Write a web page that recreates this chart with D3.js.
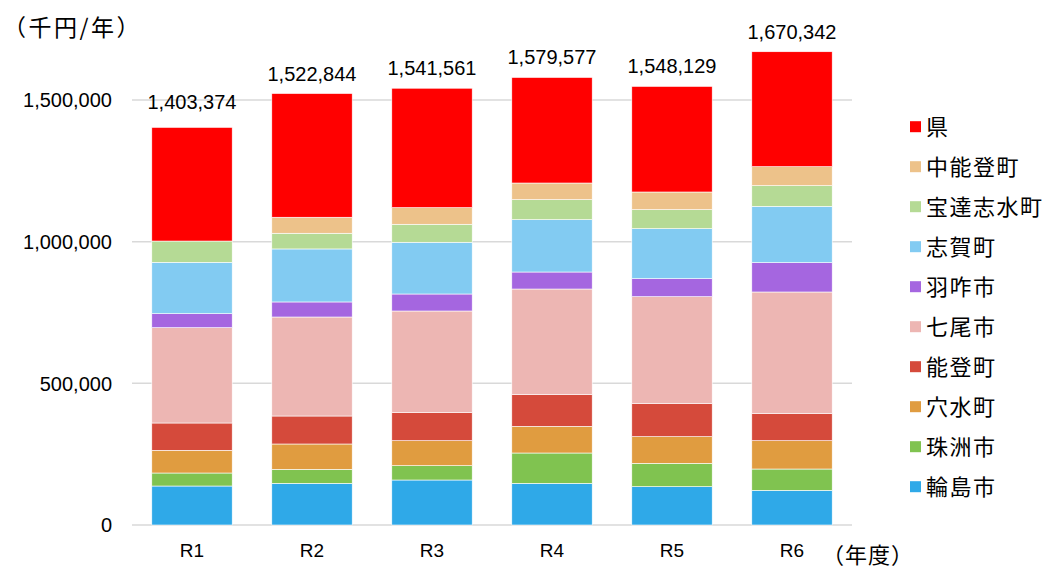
<!DOCTYPE html>
<html>
<head>
<meta charset="utf-8">
<script src="https://cdn.jsdelivr.net/npm/d3@7"></script>
<style>
  body { margin: 0; background: #fff; }
  text { font-family: "Noto Sans CJK JP", "Noto Sans", sans-serif; fill: #000; }
  .num { font-family: "Liberation Sans", Arial, sans-serif; }
</style>
</head>
<body>
<script>
const width = 1048, height = 569;

// fiscal years
const years = ["R1", "R2", "R3", "R4", "R5", "R6"];
// series, bottom to top (千円/年)
const wajima   = [137600, 147100, 158800, 147100, 135300, 122400];
const suzu     = [45900, 49400, 50500, 107000, 82400, 75200];
const anamizu  = [80100, 89400, 88200, 94100, 94100, 99900];
const noto     = [96400, 98800, 98900, 113000, 117600, 95400];
const nanao    = [336400, 349400, 358900, 371700, 376400, 429500];
const hakui    = [49400, 53100, 60000, 60000, 63500, 103500];
const shika    = [181400, 187100, 182600, 184700, 176500, 198800];
const hodatsu  = [75000, 55400, 63500, 70600, 67100, 72900];
const nakanoto = [0, 56500, 58700, 58800, 62400, 67100];
const ken      = [401174, 436644, 421461, 372577, 372729, 405642];
const totals   = [1403374, 1522844, 1541561, 1579577, 1548129, 1670342];

const names  = ["輪島市", "珠洲市", "穴水町", "能登町", "七尾市", "羽咋市", "志賀町", "宝達志水町", "中能登町", "県"];
const colors = ["#2fa9e8", "#80c350", "#e09c40", "#d54a3b", "#edb6b3", "#a566e0", "#82cbf2", "#b5da95", "#edc28a", "#ff0000"];
const seriesVals = [wajima, suzu, anamizu, noto, nanao, hakui, shika, hodatsu, nakanoto, ken];
const yTicks = [0, 500000, 1000000, 1500000];

const rows = years.map((y, i) => {
  const r = { year: y };
  names.forEach((n, k) => r[n] = seriesVals[k][i]);
  return r;
});
const stacked = d3.stack().keys(names)(rows);

const svg = d3.select("body").append("svg")
  .attr("width", width).attr("height", height);

const x = d3.scaleBand().domain(years).range([132, 852]).paddingInner(0.33).paddingOuter(0.165);
const y = d3.scaleLinear().domain([0, 1500000]).range([525, 100]);
const fmt = d3.format(",");

// gridlines
svg.append("g").selectAll("line").data(yTicks).join("line")
  .attr("x1", 132).attr("x2", 852)
  .attr("y1", d => y(d)).attr("y2", d => y(d))
  .attr("stroke", "#d9d9d9").attr("stroke-width", 1.5);

// y labels
svg.append("g").selectAll("text").data(yTicks).join("text")
  .attr("class", "num")
  .attr("x", 112).attr("y", d => y(d)).attr("dy", "0.36em")
  .attr("text-anchor", "end").attr("font-size", 20)
  .text(d => fmt(d));

// bars
svg.append("g").selectAll("g").data(stacked).join("g")
  .attr("fill", (d, i) => colors[i])
  .selectAll("rect").data(d => d).join("rect")
    .attr("x", d => x(d.data.year))
    .attr("width", x.bandwidth())
    .attr("y", d => y(d[1]))
    .attr("height", d => y(d[0]) - y(d[1]))
    .attr("stroke", "#fff").attr("stroke-width", 0.6);

// totals (R1 label sits a little higher, clear of the gridline)
svg.append("g").selectAll("text").data(years).join("text")
  .attr("class", "num")
  .attr("x", d => x(d) + x.bandwidth() / 2)
  .attr("y", (d, i) => y(totals[i]) - (i === 0 ? 18 : 13))
  .attr("text-anchor", "middle").attr("font-size", 20)
  .text((d, i) => fmt(totals[i]));

// x labels
svg.append("g").selectAll("text").data(years).join("text")
  .attr("class", "num")
  .attr("x", d => x(d) + x.bandwidth() / 2)
  .attr("y", 557)
  .attr("text-anchor", "middle").attr("font-size", 19)
  .text(d => d);

svg.append("text").attr("x", 3).attr("y", 36).attr("font-size", 23)
  .attr("letter-spacing", 2.5).text("（千円/年）");
svg.append("text").attr("x", 822).attr("y", 563).attr("font-size", 22)
  .attr("letter-spacing", 1).text("（年度）");

// legend, top entry is 県
const legend = svg.append("g").selectAll("g").data(names.slice().reverse()).join("g")
  .attr("transform", (d, i) => `translate(910, ${126.7 + i * 40})`);
legend.append("rect").attr("x", 0).attr("y", -5.5).attr("width", 11).attr("height", 11)
  .attr("fill", d => colors[names.indexOf(d)]);
legend.append("text").attr("x", 16).attr("dy", "0.36em").attr("font-size", 22)
  .attr("letter-spacing", 1.5).text(d => d);
</script>
</body>
</html>
